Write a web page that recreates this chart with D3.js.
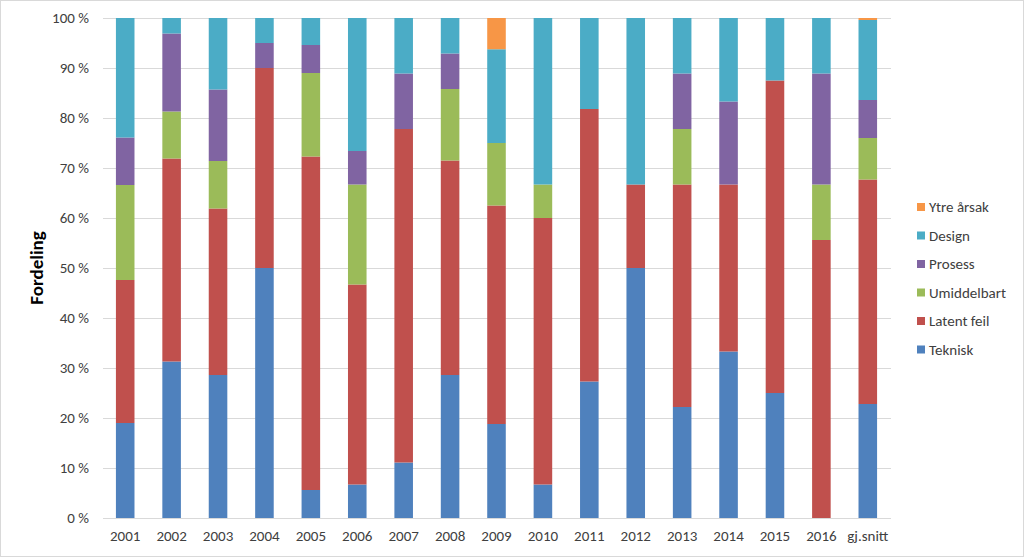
<!DOCTYPE html>
<html>
<head>
<meta charset="utf-8">
<script src="https://cdn.jsdelivr.net/npm/d3@7"></script>
<style>
  html, body { margin: 0; padding: 0; background: #fff; }
  svg { display: block; }
  text { font-family: Calibri, Carlito, Lato, "Open Sans", sans-serif; fill: #404040; }
</style>
</head>
<body>
<svg id="chart" width="1024" height="557"></svg>
<script>
const categories = ["2001","2002","2003","2004","2005","2006","2007","2008","2009","2010","2011","2012","2013","2014","2015","2016","gj.snitt"];
const seriesNames = ["Teknisk","Latent feil","Umiddelbart","Prosess","Design","Ytre årsak"];
const teknisk     = [19.0, 31.3, 28.6, 50.0,  5.6,  6.7, 11.1, 28.6, 18.8,  6.7, 27.3, 50.0, 22.2, 33.3, 25.0,  0.0, 22.8];
const latentFeil  = [28.6, 40.6, 33.3, 40.0, 66.7, 40.0, 66.7, 42.9, 43.7, 53.3, 54.5, 16.7, 44.5, 33.4, 62.5, 55.6, 44.9];
const umiddelbart = [19.0,  9.4,  9.5,  0.0, 16.7, 20.0,  0.0, 14.3, 12.5,  6.7,  0.0,  0.0, 11.1,  0.0,  0.0, 11.1,  8.3];
const prosess     = [ 9.5, 15.6, 14.3,  5.0,  5.6,  6.7, 11.1,  7.1,  0.0,  0.0,  0.0,  0.0, 11.1, 16.6,  0.0, 22.2,  7.6];
const design      = [23.9,  3.1, 14.3,  5.0,  5.4, 26.6, 11.1,  7.1, 18.75, 33.3, 18.2, 33.3, 11.1, 16.7, 12.5, 11.1, 16.0];
const ytreArsak   = [ 0.0,  0.0,  0.0,  0.0,  0.0,  0.0,  0.0,  0.0,  6.25,  0.0,  0.0,  0.0,  0.0,  0.0,  0.0,  0.0,  0.4];
const yTicks = [0,10,20,30,40,50,60,70,80,90,100];
const colors = ["#4F81BD","#C0504D","#9BBB59","#8064A2","#4BACC6","#F79646"];

const seriesValues = [teknisk, latentFeil, umiddelbart, prosess, design, ytreArsak];
const rows = categories.map((c, i) => {
  const r = { cat: c };
  seriesNames.forEach((s, k) => r[s] = seriesValues[k][i]);
  return r;
});
const stack = d3.stack().keys(seriesNames)(rows);

const svg = d3.select("#chart");
svg.append("rect").attr("x",0.5).attr("y",0.5).attr("width",1023).attr("height",556)
  .attr("fill","#fff").attr("stroke","#d9d9d9");

const x = d3.scaleBand().domain(categories).range([102, 891]).paddingInner(0.6).paddingOuter(0.3);
const y = d3.scaleLinear().domain([0, 100]).range([518, 18]);

// gridlines
svg.append("g").selectAll("line").data(yTicks).join("line")
  .attr("x1", 103).attr("x2", 891)
  .attr("y1", d => Math.round(y(d)) + 0.5).attr("y2", d => Math.round(y(d)) + 0.5)
  .attr("stroke", "#d9d9d9").attr("stroke-width", 1);

const fontStack = "Calibri, Carlito, Lato, 'Open Sans', sans-serif";

// y axis labels
const yAxis = d3.axisLeft(y).tickValues(yTicks).tickFormat(d => d + " %").tickSize(0).tickPadding(0);
const gy = svg.append("g").attr("transform", "translate(89,0)").call(yAxis);
gy.select(".domain").remove();
gy.selectAll("text").attr("font-size", 15).attr("fill", "#404040").style("font-family", fontStack);

// bars
svg.append("g").selectAll("g").data(stack).join("g")
  .attr("fill", (d, i) => colors[i])
  .selectAll("rect").data(d => d).join("rect")
  .attr("x", d => x(d.data.cat))
  .attr("width", x.bandwidth())
  .attr("y", d => y(d[1]))
  .attr("height", d => Math.max(0, y(d[0]) - y(d[1])));

// x axis labels
const xAxis = d3.axisBottom(x).tickSize(0).tickPadding(0);
const gx = svg.append("g").attr("transform", "translate(0,530)").call(xAxis);
gx.select(".domain").remove();
gx.selectAll("text").attr("font-size", 15).attr("fill", "#404040").attr("dy", "0.71em").style("font-family", fontStack);

// y title
svg.append("text").attr("transform", "translate(43,268) rotate(-90)")
  .attr("text-anchor", "middle").attr("font-size", 19).attr("font-weight", "bold")
  .style("fill", "#000").text("Fordeling");

// legend (reverse order)
const legendItems = seriesNames.map((s, i) => ({ name: s, color: colors[i] })).reverse();
const lg = svg.append("g").selectAll("g").data(legendItems).join("g")
  .attr("transform", (d, i) => `translate(917,${207 + i * 28.5})`);
lg.append("rect").attr("x", 0).attr("y", -4).attr("width", 8).attr("height", 8).attr("fill", d => d.color);
lg.append("text").attr("x", 12).attr("y", 0).attr("dy", "0.35em").attr("font-size", 15)
  .attr("fill", "#404040").text(d => d.name);
</script>
</body>
</html>
